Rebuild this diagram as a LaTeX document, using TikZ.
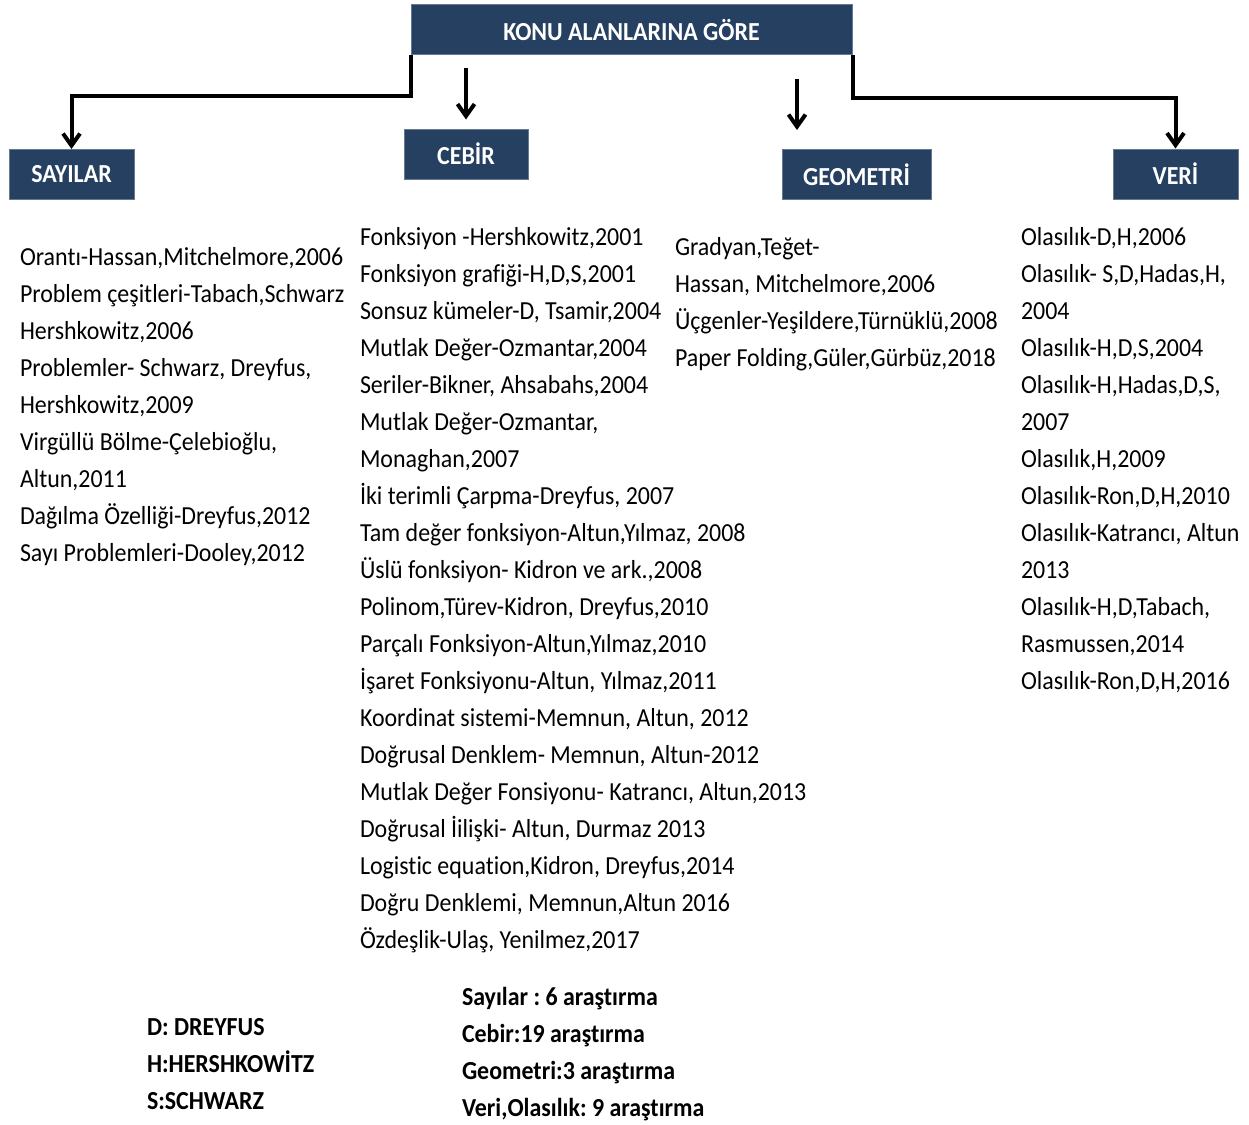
\documentclass[tikz,border=0pt]{standalone}
\usepackage{fontspec}
\setmainfont[FakeStretch=0.92, Ligatures=NoCommon]{Carlito}
\usetikzlibrary{arrows.meta}
\definecolor{baslik}{RGB}{38,64,97}
\frenchspacing

\begin{document}
\begin{tikzpicture}[x=1pt, y=-1pt, line width=4pt, >={Straight Barb[length=12pt,width=17pt]}]
		\tikzstyle{box}=[fill=baslik, draw=baslik!70!white, line width=1pt, text=white, font=\bfseries\fontsize{26}{30}\selectfont, minimum height=50pt, inner sep=0pt]
		\tikzstyle{liste}=[anchor=base west, inner sep=0pt, align=flush left, text width=470pt, font=\fontsize{26}{37}\selectfont]
		\tikzstyle{ozet}=[liste, font=\bfseries\fontsize{26}{37}\selectfont]
		\useasboundingbox (0,0) rectangle (1249,1124);

		% Draw boxes
		\node[box, minimum width=441pt] (konu) at (631.5,30) {KONU ALANLARINA GÖRE};
		\node[box, minimum width=125pt] (sayilar) at (71.5,174.5) {SAYILAR};
		\node[box, minimum width=124pt] (cebir) at (466,154) {CEBİR};
		\node[box, minimum width=149pt] (geometri) at (856.5,174.5) {GEOMETRİ};
		\node[box, minimum width=125pt] (veri) at (1175.5,174) {VERİ};

		% Draw lists
		\node[liste] (sayilarList) at (18,265) {Orantı-Hassan,Mitchelmore,2006\\Problem çeşitleri-Tabach,Schwarz\\Hershkowitz,2006\\Problemler- Schwarz, Dreyfus,\\Hershkowitz,2009\\Virgüllü Bölme-Çelebioğlu,\\Altun,2011\\Dağılma Özelliği-Dreyfus,2012\\Sayı Problemleri-Dooley,2012};
		\node[liste] (cebirList) at (358,245) {Fonksiyon -Hershkowitz,2001\\Fonksiyon grafiği-H,D,S,2001\\Sonsuz kümeler-D, Tsamir,2004\\Mutlak Değer-Ozmantar,2004\\Seriler-Bikner, Ahsabahs,2004\\Mutlak Değer-Ozmantar,\\Monaghan,2007\\İki terimli Çarpma-Dreyfus, 2007\\Tam değer fonksiyon-Altun,Yılmaz, 2008\\Üslü fonksiyon- Kidron ve ark.,2008\\Polinom,Türev-Kidron, Dreyfus,2010\\Parçalı Fonksiyon-Altun,Yılmaz,2010\\İşaret Fonksiyonu-Altun, Yılmaz,2011\\Koordinat sistemi-Memnun, Altun, 2012\\Doğrusal Denklem- Memnun, Altun-2012\\Mutlak Değer Fonsiyonu- Katrancı, Altun,2013\\Doğrusal İilişki- Altun, Durmaz 2013\\Logistic equation,Kidron, Dreyfus,2014\\Doğru Denklemi, Memnun,Altun 2016\\Özdeşlik-Ulaş, Yenilmez,2017};
		\node[liste] (geometriList) at (673,255) {Gradyan,Teğet-\\Hassan, Mitchelmore,2006\\Üçgenler-Yeşildere,Türnüklü,2008\\Paper Folding,Güler,Gürbüz,2018};
		\node[liste] (veriList) at (1019,245) {Olasılık-D,H,2006\\Olasılık- S,D,Hadas,H,\\2004\\Olasılık-H,D,S,2004\\Olasılık-H,Hadas,D,S,\\2007\\Olasılık,H,2009\\Olasılık-Ron,D,H,2010\\Olasılık-Katrancı, Altun\\2013\\Olasılık-H,D,Tabach,\\Rasmussen,2014\\Olasılık-Ron,D,H,2016};

		% Draw notes
		\node[ozet] (kisaltma) at (145,1035) {D: DREYFUS\\H:HERSHKOWİTZ\\S:SCHWARZ};
		\node[ozet] (toplam) at (460,1005) {Sayılar : 6 araştırma\\Cebir:19 araştırma\\Geometri:3 araştırma\\Veri,Olasılık: 9 araştırma};

		% Draw arrows
		\coordinate (geoX) at (797,0);
		\draw[->] (konu.south west) -- ++(0,40) -| (sayilar.north);
		\draw[->, shorten <=12pt, shorten >=9pt] (konu.south -| cebir.north) -- (cebir.north);
		\draw[->, shorten <=23pt, shorten >=19pt] (konu.south -| geoX) -- (geometri.north -| geoX);
		\draw[->] (konu.south east) -- ++(0,42) -| (veri.north);

\end{tikzpicture}
\end{document}
